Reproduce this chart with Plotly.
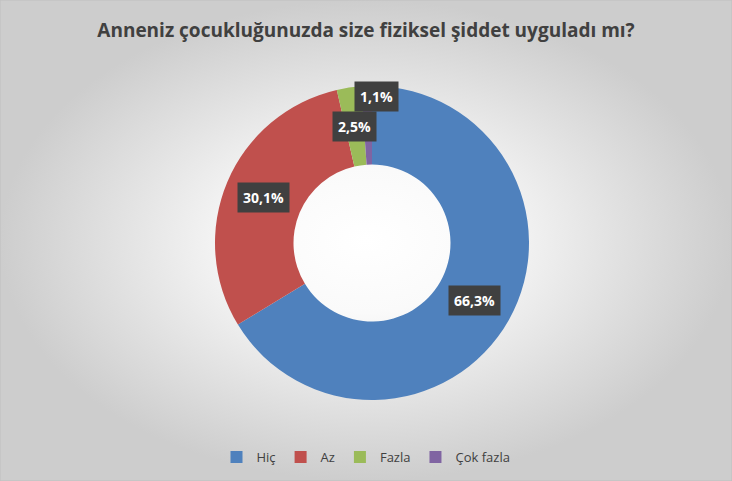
import math
import plotly.graph_objects as go

# --- dados ---
categorias = ['Hiç', 'Az', 'Fazla', 'Çok fazla']
percentuais = [66.3, 30.1, 2.5, 1.1]
cores = ['#4F81BD', '#C0504D', '#9BBB59', '#8064A2']
titulo = 'Anneniz çocukluğunuzda size fiziksel şiddet uyguladı mı?'

W, H = 732, 481
cx, cy, raio = 372, 243, 157   # centro / raio do anel em pixels
buraco = 0.5

dom_x = [(cx - raio) / W, (cx + raio) / W]
dom_y = [(H - cy - raio) / H, (H - cy + raio) / H]

fig = go.Figure()

# fundo com gradiente radial
fig.add_trace(go.Scatter(x=[0, 1, 1, 0, 0], y=[0, 0, 1, 1, 0], mode='lines',
                         line=dict(width=0), fill='toself',
                         fillgradient=dict(type='radial',
                                           colorscale=[[0, '#ffffff'], [0.3, '#fafafa'], [1, '#cdcdcd']]),
                         hoverinfo='skip', showlegend=False))

fig.add_trace(go.Pie(labels=categorias, values=percentuais, hole=buraco,
                     sort=False, direction='clockwise', rotation=0,
                     marker=dict(colors=cores, line=dict(width=0)),
                     textinfo='none', domain=dict(x=dom_x, y=dom_y)))

# rótulos em caixas escuras no meio do anel
r_lab = raio * (1 + buraco) / 2
acum = 0
for i, (cat, v) in enumerate(zip(categorias, percentuais)):
    ang = math.radians((acum + v / 2) / 100 * 360)
    acum += v
    ultimo = i == len(percentuais) - 1
    rr = r_lab + (29 if ultimo else 0)   # afasta o último para não sobrepor
    px = cx + rr * math.sin(ang) + (10 if ultimo else 0)
    py = cy - rr * math.cos(ang)
    fig.add_annotation(x=px / W, y=1 - py / H, xref='paper', yref='paper',
                       xanchor='center', yanchor='middle',
                       text='<b>' + f'{v:.1f}'.replace('.', ',') + '%</b>',
                       showarrow=False, bgcolor='#404040', borderpad=5,
                       font=dict(color='white', size=14, family='Open Sans'))

fig.update_layout(
    width=W, height=H, margin=dict(l=0, r=0, t=0, b=0),
    title=dict(text='<b>' + titulo + '</b>', x=0.5, xanchor='center',
               y=1 - 30 / H, yanchor='middle',
               font=dict(size=19, color='#404040', family='Open Sans')),
    xaxis=dict(visible=False, range=[0, 1], domain=[0, 1], fixedrange=True),
    yaxis=dict(visible=False, range=[0, 1], domain=[0, 1], fixedrange=True),
    legend=dict(orientation='h', x=0.5, xanchor='center', y=1 - 457 / H, yanchor='middle',
                font=dict(size=13, color='#404040', family='Open Sans'),
                bgcolor='rgba(0,0,0,0)', itemwidth=30, traceorder='normal'),
    paper_bgcolor='#d9d9d9', plot_bgcolor='rgba(0,0,0,0)',
    shapes=[dict(type='rect', xref='paper', yref='paper', x0=0, y0=0, x1=1, y1=1,
                 line=dict(color='#bfbfbf', width=1))],
)

fig.write_html("out.html", config={'displayModeBar': False},
               post_script="document.body.style.margin='0';")
